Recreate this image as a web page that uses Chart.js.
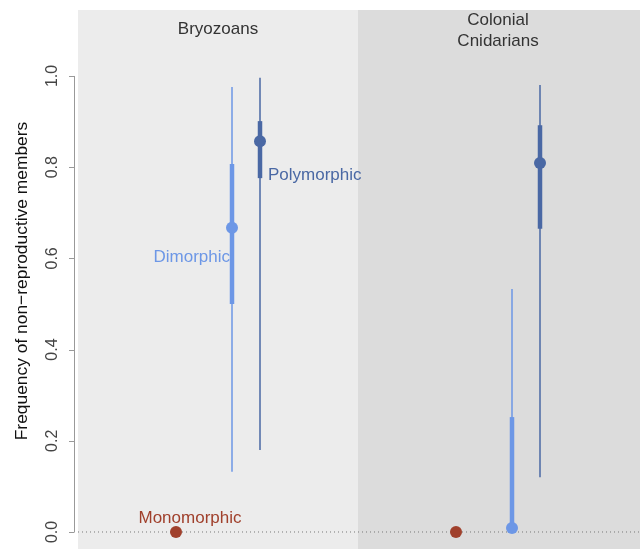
<!DOCTYPE html>
<html>
<head>
<meta charset="utf-8">
<script src="https://cdn.jsdelivr.net/npm/chart.js@4"></script>
<style>
  body { margin: 0; background: #fff; }
  canvas { display: block; }
</style>
</head>
<body>
<canvas id="chart" width="640" height="549"></canvas>
<script>
const groups = ['Bryozoans', 'Colonial\nCnidarians']
const morphs = ['Monomorphic', 'Dimorphic', 'Polymorphic']

// one row per group, one column per morph
const means   = [[0, 0.667, 0.857], [0, 0.009, 0.809]]
const innerLo = [[null, 0.500, 0.776], [null, 0.000, 0.665]]
const innerHi = [[null, 0.807, 0.901], [null, 0.252, 0.892]]
const outerLo = [[null, 0.132, 0.180], [null, 0.000, 0.120]]
const outerHi = [[null, 0.976, 0.996], [null, 0.533, 0.980]]

const yTicks = [0, 0.2, 0.4, 0.6, 0.8, 1.0]

const colors = ['#a0402c', '#6d97e6', '#4a68a4']
const offsets = [0.35, 0.55, 0.65]
const panelColors = ['#ececec', '#dcdcdc']
const font = '"Liberation Sans", Arial, sans-serif'

const datasets = []
groups.forEach((g, gi) => {
    morphs.forEach((m, mi) => {
        const x = gi + offsets[mi]
        if (outerLo[gi][mi] != null) {
            datasets.push({
                data: [{x: x, y: outerLo[gi][mi]}, {x: x, y: outerHi[gi][mi]}],
                showLine: true, borderColor: colors[mi], borderWidth: 1.5,
                pointRadius: 0, order: 3
            })
            datasets.push({
                data: [{x: x, y: innerLo[gi][mi]}, {x: x, y: innerHi[gi][mi]}],
                showLine: true, borderColor: colors[mi], borderWidth: 4.5,
                pointRadius: 0, order: 2
            })
        }
        datasets.push({
            data: [{x: x, y: means[gi][mi]}],
            backgroundColor: colors[mi], borderColor: colors[mi],
            pointRadius: 6, borderWidth: 0, order: 1
        })
    })
})

const decor = {
    id: 'decor',
    beforeDatasetsDraw(chart) {
        const {ctx, chartArea, scales: {x, y}} = chart
        ctx.save()
        groups.forEach((g, gi) => {
            const l = x.getPixelForValue(gi)
            const r = gi == groups.length - 1 ? chart.width : x.getPixelForValue(gi + 1)
            ctx.fillStyle = panelColors[gi]
            ctx.fillRect(l, chartArea.top, r - l, chartArea.bottom - chartArea.top)
            ctx.fillStyle = '#333'
            ctx.font = '17px ' + font
            ctx.textAlign = 'center'
            ctx.textBaseline = 'middle'
            const lines = g.split('\n')
            const cx = (l + x.getPixelForValue(gi + 1)) / 2
            lines.forEach((t, i) => {
                const ty = lines.length == 1 ? 29 : 20 + i * 21
                ctx.fillText(t, cx, ty)
            })
        })

        // dotted zero line
        const y0 = y.getPixelForValue(0)
        ctx.strokeStyle = '#777'
        ctx.lineWidth = 1
        ctx.setLineDash([1, 3])
        ctx.beginPath()
        ctx.moveTo(chartArea.left, y0)
        ctx.lineTo(chart.width, y0)
        ctx.stroke()
        ctx.setLineDash([])

        // R-style y axis
        const ax = chartArea.left - 4
        ctx.strokeStyle = '#999'
        ctx.beginPath()
        ctx.moveTo(ax + 0.5, y.getPixelForValue(yTicks[0]))
        ctx.lineTo(ax + 0.5, y.getPixelForValue(yTicks[yTicks.length - 1]))
        yTicks.forEach(t => {
            const py = Math.round(y.getPixelForValue(t)) + 0.5
            ctx.moveTo(ax + 0.5, py)
            ctx.lineTo(ax - 5, py)
        })
        ctx.stroke()

        ctx.fillStyle = '#444'
        ctx.font = '16px ' + font
        ctx.textAlign = 'center'
        ctx.textBaseline = 'middle'
        yTicks.forEach(t => {
            ctx.save()
            ctx.translate(53, y.getPixelForValue(t))
            ctx.rotate(-Math.PI / 2)
            ctx.fillText(t.toFixed(1), 0, 0)
            ctx.restore()
        })

        ctx.save()
        ctx.fillStyle = '#111'
        ctx.font = '17.4px ' + font
        ctx.translate(22, 281)
        ctx.rotate(-Math.PI / 2)
        ctx.fillText('Frequency of non\u2212reproductive members', 0, 0)
        ctx.restore()
        ctx.restore()
    },
    afterDatasetsDraw(chart) {
        const {ctx, scales: {x, y}} = chart
        ctx.save()
        ctx.font = '17px ' + font
        ctx.textBaseline = 'middle'
        // labels beside the Bryozoan marks
        const px = mi => x.getPixelForValue(offsets[mi])
        const py = mi => y.getPixelForValue(means[0][mi])
        ctx.fillStyle = colors[0]
        ctx.textAlign = 'center'
        ctx.fillText(morphs[0], px(0) + 14, py(0) - 14)
        ctx.fillStyle = colors[1]
        ctx.textAlign = 'right'
        ctx.fillText(morphs[1], px(1) - 2, py(1) + 29)
        ctx.fillStyle = colors[2]
        ctx.textAlign = 'left'
        ctx.fillText(morphs[2], px(2) + 8, py(2) + 34)
        ctx.restore()
    }
}

new Chart('chart', {
    type: 'scatter',
    data: { datasets: datasets },
    options: {
        responsive: false,
        animation: false,
        layout: { autoPadding: false, padding: { left: 78, right: 2, top: 10, bottom: 0 } },
        scales: {
            x: { type: 'linear', min: 0, max: 2, display: false },
            y: { type: 'linear', min: -0.0373, max: 1.1447, display: false }
        },
        plugins: { legend: { display: false }, tooltip: { enabled: false } }
    },
    plugins: [decor]
})
</script>
</body>
</html>
